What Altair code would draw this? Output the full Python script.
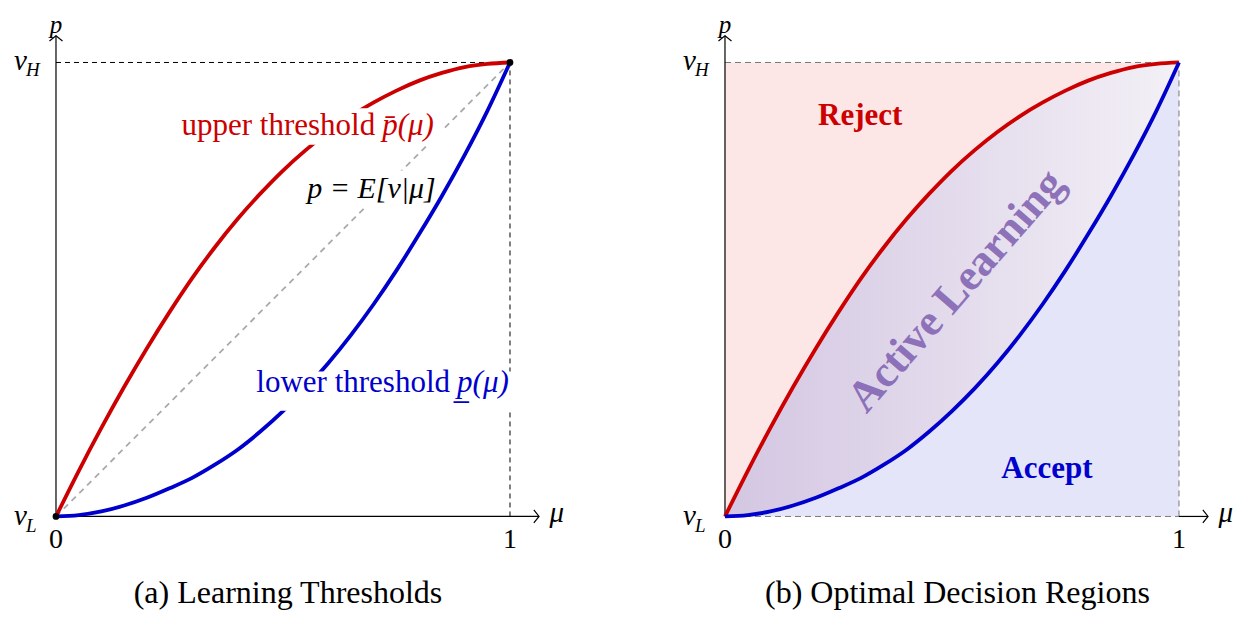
import altair as alt
import pandas as pd

# ---- data ----
mu = [0.0, 0.05, 0.10, 0.15, 0.20, 0.25, 0.30, 0.35, 0.40, 0.45, 0.50,
      0.55, 0.60, 0.65, 0.70, 0.75, 0.80, 0.85, 0.90, 0.95, 1.0]
upper = [0.0, 0.100, 0.195, 0.285, 0.370, 0.450, 0.525, 0.593, 0.655, 0.711, 0.762,
         0.807, 0.847, 0.882, 0.912, 0.938, 0.960, 0.977, 0.990, 0.997, 1.0]
lower = [0.0, 0.003, 0.011, 0.024, 0.041, 0.062, 0.085, 0.114, 0.147, 0.187, 0.232,
         0.282, 0.338, 0.400, 0.468, 0.542, 0.622, 0.706, 0.796, 0.893, 1.0]

RED = "#cc0000"
BLUE = "#0000cc"
FONT = "Liberation Serif"

YS = alt.Scale(domain=[-0.205, 1.12], nice=False, zero=False)
H = 601.5

curves = pd.DataFrame({"mu": mu, "upper": upper, "lower": lower,
                       "one": [1.0] * len(mu), "zero": [0.0] * len(mu)})


def make_panel(xs, layers_fn):
    def X(f="x"):
        return alt.X(f"{f}:Q", scale=xs, axis=None)

    def Y(f="y"):
        return alt.Y(f"{f}:Q", scale=YS, axis=None)

    def segs(rows, **kw):
        df = pd.DataFrame(rows, columns=["x", "y", "x2", "y2"])
        return alt.Chart(df).mark_rule(**kw).encode(
            x=X(), y=Y(), x2="x2:Q", y2="y2:Q")

    def boxes(rows):
        df = pd.DataFrame(rows, columns=["x", "y", "x2", "y2"])
        return alt.Chart(df).mark_rect(color="white", opacity=1).encode(
            x=X(), y=Y(), x2="x2:Q", y2="y2:Q")

    def txt(rows, **kw):
        df = pd.DataFrame(rows, columns=["x", "y", "t"])
        props = dict(font=FONT, fontSize=28, color="black", baseline="middle")
        props.update(kw)
        return alt.Chart(df).mark_text(**props).encode(x=X(), y=Y(), text="t:N")

    def arrows():
        right = alt.Chart(pd.DataFrame({"x": [1.064], "y": [0.0]})).mark_point(
            shape="M-0.8,-1L0,0L-0.8,1", size=170, filled=False,
            color="black", strokeWidth=1.2, opacity=1).encode(x=X(), y=Y())
        up = alt.Chart(pd.DataFrame({"x": [0.0], "y": [1.059]})).mark_point(
            shape="M-1,0.8L0,0L1,0.8", size=170, filled=False,
            color="black", strokeWidth=1.2, opacity=1).encode(x=X(), y=Y())
        return [right, up]

    def axis_labels():
        return [
            txt([[0.0, 1.083, "p"]], fontStyle="italic", fontSize=25),
            txt([[1.103, 0.008, "μ"]], fontStyle="italic", fontSize=29),
            txt([[-0.064, 1.004, "v"], [-0.064, 0.0, "v"]], fontStyle="italic",
                align="right", fontSize=29),
            txt([[-0.066, 0.983, "H"], [-0.066, -0.021, "L"]], fontStyle="italic",
                align="left", fontSize=19),
            txt([[0.0, -0.052, "0"], [1.0, -0.052, "1"]], fontSize=28),
        ]

    def curve_lines():
        up = alt.Chart(curves).mark_line(color=RED, strokeWidth=3.8,
                                         interpolate="monotone").encode(
            x=X("mu"), y=Y("upper"))
        lo = alt.Chart(curves).mark_line(color=BLUE, strokeWidth=3.8,
                                         interpolate="monotone").encode(
            x=X("mu"), y=Y("lower"))
        return [up, lo]

    tools = dict(X=X, Y=Y, segs=segs, boxes=boxes, txt=txt, arrows=arrows,
                 axis_labels=axis_labels, curve_lines=curve_lines)
    return layers_fn(tools)


# ---------- panel (a) ----------
def left_layers(t):
    X, Y = t["X"], t["Y"]
    return [
        t["segs"]([[0, 1, 1, 1], [1, 0, 1, 1]], color="black", strokeWidth=1,
                  strokeDash=[5, 4]),
        t["segs"]([[0, 0, 1.064, 0], [0, 0, 0, 1.059]], color="black",
                  strokeWidth=1.2),
        t["segs"]([[0, 0, 1, 1]], color="#aaaaaa", strokeWidth=1.8,
                  strokeDash=[6, 5]),
        t["boxes"]([[0.545, 0.683, 0.84, 0.762]]),
        *t["curve_lines"](),
        t["boxes"]([[0.247, 0.819, 0.85, 0.899], [0.427, 0.233, 1.008, 0.319]]),
        *t["arrows"](),
        alt.Chart(pd.DataFrame({"x": [0.0, 1.0], "y": [0.0, 1.0]})).mark_circle(
            size=45, color="black", opacity=1).encode(x=X(), y=Y()),
        t["txt"]([[0.703, 0.861, "upper threshold"]], color=RED, align="right",
                 fontSize=31),
        t["txt"]([[0.703, 0.861, "p̄(μ)"]], color=RED, align="left", fontSize=31,
                 fontStyle="italic", dx=7),
        t["txt"]([[0.868, 0.293, "lower threshold"]], color=BLUE, align="right",
                 fontSize=31),
        t["txt"]([[0.868, 0.293, "p̲(μ)"]], color=BLUE, align="left", fontSize=31,
                 fontStyle="italic", dx=7),
        t["txt"]([[0.695, 0.722, "p = E[v|μ]"]], fontSize=30, fontStyle="italic"),
        *t["axis_labels"](),
        t["txt"]([[0.511, -0.205, "(a) Learning Thresholds"]], fontSize=32,
                 baseline="bottom"),
    ]


# ---------- panel (b) ----------
def right_layers(t):
    X, Y = t["X"], t["Y"]
    reject = alt.Chart(curves).mark_area(color="#fde6e6", opacity=1,
                                         interpolate="monotone").encode(
        x=X("mu"), y=Y("upper"), y2="one:Q")
    accept = alt.Chart(curves).mark_area(color="#e5e5fa", opacity=1,
                                         interpolate="monotone").encode(
        x=X("mu"), y=Y("lower"), y2="zero:Q")
    active = alt.Chart(curves).mark_area(
        opacity=1, interpolate="monotone",
        color=alt.Gradient(
            gradient="linear",
            stops=[alt.GradientStop(color="#d3c6e2", offset=0),
                   alt.GradientStop(color="#f3f0f6", offset=1)],
            x1=0, x2=1, y1=0, y2=0),
    ).encode(x=X("mu"), y=Y("upper"), y2="lower:Q")
    return [
        reject, accept, active,
        t["segs"]([[0, 1, 1, 1], [1, 0, 1, 1], [0, 0, 1, 0]], color="#777777",
                  strokeWidth=1, strokeDash=[6, 4]),
        t["segs"]([[1, 0, 1.064, 0], [0, 0, 0, 1.059]], color="black",
                  strokeWidth=1.2),
        *t["curve_lines"](),
        *t["arrows"](),
        t["txt"]([[0.298, 0.881, "Reject"]], color=RED, fontWeight="bold",
                 fontSize=31),
        t["txt"]([[0.709, 0.104, "Accept"]], color=BLUE, fontWeight="bold",
                 fontSize=31),
        t["txt"]([[0.51, 0.496, "Active Learning"]], color="#8466b4",
                 fontWeight="bold", fontSize=44, angle=311, opacity=0.9),
        *t["axis_labels"](),
        t["txt"]([[0.512, -0.205, "(b) Optimal Decision Regions"]], fontSize=32,
                 baseline="bottom"),
    ]


XS_L = alt.Scale(domain=[-0.1057, 1.154], nice=False, zero=False)
XS_R = alt.Scale(domain=[-0.1057, 1.12], nice=False, zero=False)

left = alt.layer(*make_panel(XS_L, left_layers)).properties(
    width=1.2597 * 454, height=H)
right = alt.layer(*make_panel(XS_R, right_layers)).properties(
    width=1.2257 * 454, height=H)

chart = alt.hconcat(left, right, spacing=97).resolve_scale(x="independent").properties(
    padding=0).configure_view(stroke=None)

chart.save("out.html", embed_options={"renderer": "svg", "actions": False})
